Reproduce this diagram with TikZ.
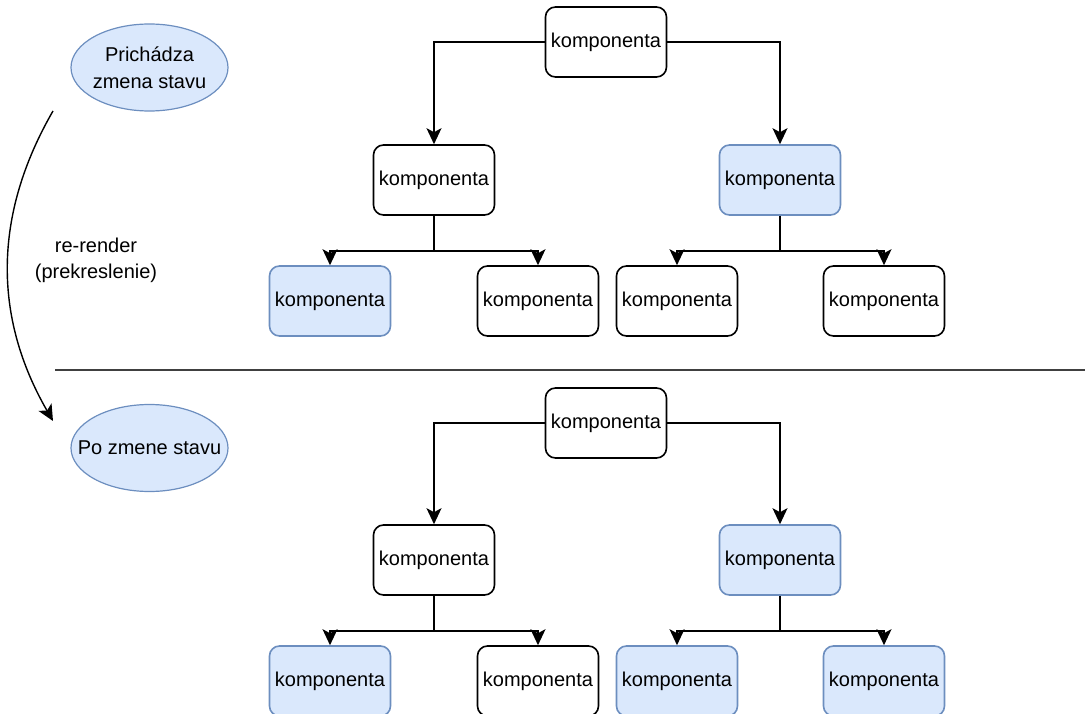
\documentclass[tikz,border=0pt]{standalone}
\usepackage{fontspec}
\setmainfont{Liberation Sans}
\usetikzlibrary{arrows.meta,shapes.geometric}
\definecolor{stateFill}{HTML}{DAE8FC}
\definecolor{stateLine}{HTML}{6C8EBF}
\tikzset{
  comp/.style={draw=black, line width=1.6pt, rounded corners=10pt, fill=white,
    minimum width=121pt, minimum height=70pt, inner sep=0pt,
    font=\fontsize{20}{24}\selectfont},
  changed/.style={comp, draw=stateLine, fill=stateFill},
  state/.style={ellipse, draw=stateLine, line width=1.2pt, fill=stateFill,
    minimum width=157pt, minimum height=87pt, inner sep=0pt, align=center,
    font=\fontsize{20}{27}\selectfont},
  conn/.style={draw=black, line width=1.6pt,
    -{Stealth[length=16pt, width=15pt, inset=4pt]}},
  note/.style={align=center, font=\fontsize{20}{26}\selectfont}
}
\begin{document}
\begin{tikzpicture}[x=1pt, y=-1pt]
  \useasboundingbox (0,0) rectangle (1085,714);

  % state labels and the re-render transition
  \node[state] (before) at (149.5,67.5) {\makebox[0pt][c]{Prichádza}\\\makebox[0pt][c]{zmena stavu}};
  \node[state] (after) at (149.5,448) {\makebox[0pt][c]{Po zmene stavu}};
  \coordinate (curveStart) at (53,111);
  \coordinate (curveEnd) at (53,421);
  \draw[conn, line width=1.4pt] (curveStart) .. controls (-7,215) and (-7,317) .. (curveEnd);
  \node[note] (rerender) at (96,260) {re-render\\(prekreslenie)};

  % separator between the two states
  \coordinate (sepL) at (55,370);
  \coordinate (sepR) at (1085,370);
  \draw[line width=1.4pt, black!75] (sepL) -- (sepR);

  % component tree before the change
  \node[comp]    (r1)  at (606,42)  {komponenta};
  \node[comp]    (ml1) at (434,180) {komponenta};
  \node[changed] (mr1) at (780,180) {komponenta};
  \node[changed] (a1)  at (330,301) {komponenta};
  \node[comp]    (b1)  at (538,301) {komponenta};
  \node[comp]    (c1)  at (677,301) {komponenta};
  \node[comp]    (d1)  at (884,301) {komponenta};
  \draw[conn] (r1.west) -| (ml1.north);
  \draw[conn] (r1.east) -| (mr1.north);
  \draw[conn] (ml1.south) -- ++(0,35) -| (a1.north);
  \draw[conn] (ml1.south) -- ++(0,35) -| (b1.north);
  \draw[conn] (mr1.south) -- ++(0,35) -| (c1.north);
  \draw[conn] (mr1.south) -- ++(0,35) -| (d1.north);

  % component tree after the change
  \node[comp]    (r2)  at (606,423) {komponenta};
  \node[comp]    (ml2) at (434,560) {komponenta};
  \node[changed] (mr2) at (780,560) {komponenta};
  \node[changed] (a2)  at (330,681) {komponenta};
  \node[comp]    (b2)  at (538,681) {komponenta};
  \node[changed] (c2)  at (677,681) {komponenta};
  \node[changed] (d2)  at (884,681) {komponenta};
  \draw[conn] (r2.west) -| (ml2.north);
  \draw[conn] (r2.east) -| (mr2.north);
  \draw[conn] (ml2.south) -- ++(0,35) -| (a2.north);
  \draw[conn] (ml2.south) -- ++(0,35) -| (b2.north);
  \draw[conn] (mr2.south) -- ++(0,35) -| (c2.north);
  \draw[conn] (mr2.south) -- ++(0,35) -| (d2.north);
\end{tikzpicture}
\end{document}
